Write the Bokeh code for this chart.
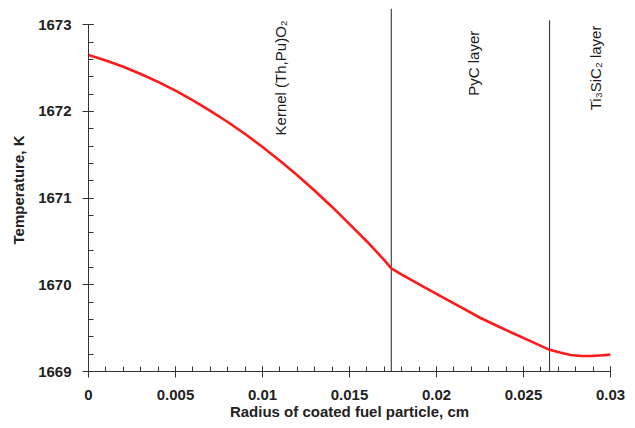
import numpy as np
from bokeh.plotting import figure
from bokeh.models import Range1d, SingleIntervalTicker, NumeralTickFormatter, ColumnDataSource
from bokeh.core.properties import value
from bokeh.embed import file_html
from bokeh.resources import INLINE

# Curve: radius (cm) vs temperature (K)
radius = [0.0, 0.001, 0.002, 0.003, 0.004, 0.005, 0.006, 0.007, 0.008, 0.009,
          0.010, 0.011, 0.012, 0.013, 0.014, 0.015, 0.016, 0.017, 0.0174,
          0.01793, 0.0187, 0.0195, 0.0206, 0.0215, 0.0225, 0.0235, 0.0243,
          0.0254, 0.0265, 0.0271, 0.0277, 0.0283, 0.0289, 0.0294, 0.030]
temperature = [1672.65, 1672.587, 1672.515, 1672.432, 1672.34, 1672.24, 1672.128, 1672.007,
               1671.878, 1671.739, 1671.59, 1671.431, 1671.263, 1671.085, 1670.898, 1670.70,
               1670.50, 1670.285, 1670.19,
               1670.125, 1670.04, 1669.95, 1669.83, 1669.73, 1669.62, 1669.525, 1669.45,
               1669.35, 1669.25, 1669.218, 1669.19, 1669.178, 1669.178, 1669.185, 1669.195]

# Layer boundaries (cm) and top of each boundary line (K)
boundary_x = [0.0174, 0.0265]
boundary_top = [1673.187, 1673.05]

# Layer labels
layer_labels = ["Kernel (Th,Pu)O\u2082", "PyC layer", "Ti\u2083SiC\u2082 layer"]
label_x = [0.01103, 0.02213, 0.02914]
label_y = [1673.05, 1672.93, 1672.99]

FONT = "Liberation Sans"

p = figure(width=627, height=422, output_backend="svg", toolbar_location=None,
           x_range=Range1d(0, 0.03), y_range=Range1d(1669, 1673.187),
           min_border_left=88, min_border_right=17, min_border_top=8, min_border_bottom=50)
p.outline_line_color = None
p.grid.visible = False
p.background_fill_color = "white"

p.segment(x0=boundary_x, y0=[1669] * len(boundary_x), x1=boundary_x, y1=boundary_top,
          line_color="#222222", line_width=1)

p.line(radius, temperature, line_color="#ff1a1a", line_width=2.6, line_join="round")

src = ColumnDataSource(dict(x=label_x, y=label_y, t=layer_labels))
p.text(x="x", y="y", text="t", source=src, angle=np.pi / 2, text_align="right",
       text_baseline="middle", text_font=value(FONT), text_font_size="15px",
       text_color="#1a1a1a")

for ax in (p.xaxis[0], p.yaxis[0]):
    ax.axis_line_color = "#333333"
    ax.major_tick_line_color = "#333333"
    ax.minor_tick_line_color = "#333333"
    ax.major_tick_out = 6
    ax.major_tick_in = 5
    ax.minor_tick_out = 0
    ax.minor_tick_in = 5
    ax.major_label_text_font = FONT
    ax.major_label_text_font_size = "15px"
    ax.major_label_text_font_style = "bold"
    ax.major_label_text_color = "#222222"
    ax.axis_label_text_font = FONT
    ax.axis_label_text_font_size = "15px"
    ax.axis_label_text_font_style = "bold"
    ax.axis_label_text_color = "#222222"

p.xaxis[0].ticker = SingleIntervalTicker(interval=0.005, num_minor_ticks=5)
p.xaxis[0].formatter = NumeralTickFormatter(format="0.[000]")
p.xaxis[0].axis_label = "Radius of coated fuel particle, cm"
p.xaxis[0].major_label_standoff = 12
p.xaxis[0].axis_label_standoff = 0

p.yaxis[0].ticker = SingleIntervalTicker(interval=1, num_minor_ticks=5)
p.yaxis[0].bounds = (1669, 1673)
p.yaxis[0].axis_label = "Temperature, K"
p.yaxis[0].major_label_standoff = 11
p.yaxis[0].axis_label_standoff = 8

open("out.html", "w").write(file_html(p, INLINE))
